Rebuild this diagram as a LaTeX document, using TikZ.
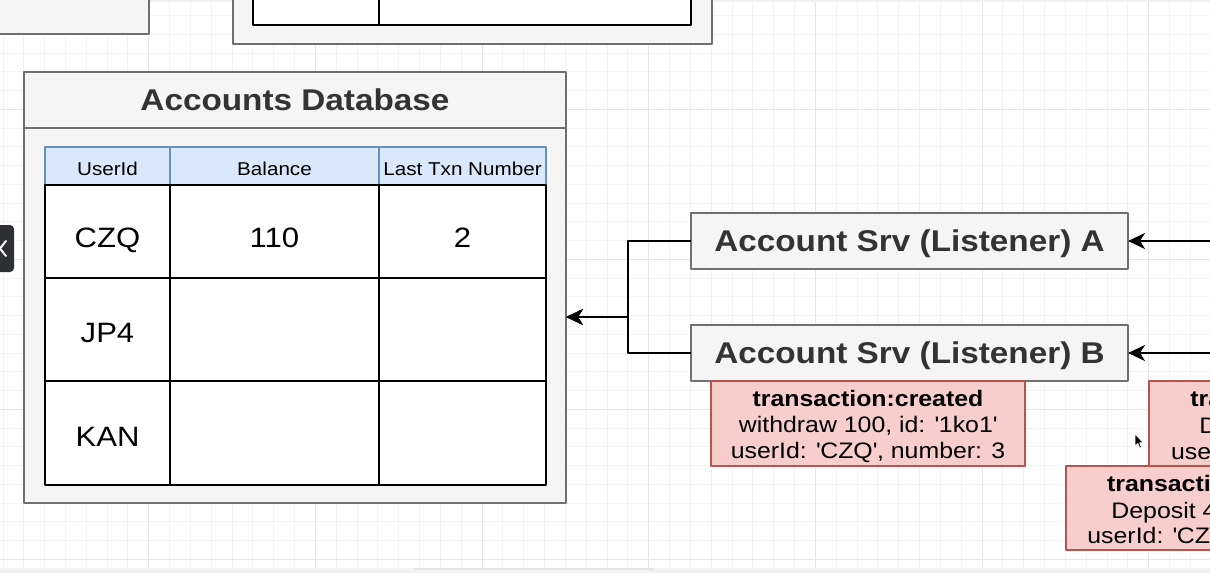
\documentclass[tikz,border=0pt]{standalone}
\usepackage{fontspec}
\setmainfont{Liberation Sans}[FakeStretch=1.11]
\usetikzlibrary{arrows.meta,positioning,calc}

\definecolor{panelfill}{HTML}{F5F5F5}
\definecolor{panelline}{HTML}{707070}
\definecolor{titletext}{HTML}{333333}
\definecolor{headfill}{HTML}{DAE8FC}
\definecolor{headline}{HTML}{6C8EBF}
\definecolor{evfill}{HTML}{F8CECC}
\definecolor{evline}{HTML}{B85450}
\definecolor{gridlight}{HTML}{F3F3F3}
\definecolor{griddark}{HTML}{E6E6E6}
\definecolor{tabdark}{HTML}{2D2F33}

\newcommand\sq{\textquotesingle}

\begin{document}
\begin{tikzpicture}[x=0.5pt, y=-0.5pt, line join=round,
  panel/.style={draw=panelline, fill=panelfill, line width=1pt},
  srv/.style={panel, minimum width=218.5pt, minimum height=28pt, inner sep=0pt, outer sep=0pt,
    text=titletext, font=\fontsize{15}{18}\selectfont\bfseries, text height=10.7pt, text depth=0pt},
  cell/.style={draw=black, fill=white, line width=0.9pt, inner sep=0pt, outer sep=0pt,
    font=\fontsize{14}{16}\selectfont, text height=13pt, text depth=0pt},
  hcell/.style={cell, draw=headline, fill=headfill, minimum height=19pt,
    font=\fontsize{9.3}{11}\selectfont, text height=9pt},
  event/.style={draw=evline, fill=evfill, line width=0.9pt, minimum width=157pt, minimum height=42.5pt,
    inner sep=0pt, outer sep=0pt},
  evtext/.style={align=center, inner sep=0pt, font=\fontsize{11.2}{13}\selectfont},
  frag/.style={anchor=base west, inner sep=0pt, font=\fontsize{11.2}{13}\selectfont},
  conn/.style={draw=black, line width=1pt, -{Stealth[length=8.5pt, width=8pt, inset=2.5pt]}},
  gridminor/.style={draw=gridlight, line width=0.5pt},
  gridmajor/.style={draw=griddark, line width=0.5pt}]

\useasboundingbox (0,0) rectangle (1210,573);
\clip (0,0) rectangle (1210,573);
\fill[white] (0,0) rectangle (1210,573);

% grid
\foreach \k in {0,...,58} \draw[gridminor] ({3+20.833*\k},0) -- ({3+20.833*\k},573);
\foreach \k in {0,...,30} \draw[gridminor] (0,{15.55+18.75*\k}) -- (1210,{15.55+18.75*\k});
\foreach \k in {7,15,...,55} \draw[gridmajor] ({3+20.833*\k},0) -- ({3+20.833*\k},573);
\foreach \k in {5,13,21,29} \draw[gridmajor] (0,{15.55+18.75*\k}) -- (1210,{15.55+18.75*\k});
\fill[gray!12] (0,0) rectangle (1210,2);
\fill[gray!10] (0,568) rectangle (1210,573);
\fill[gray!22] (414,568) rectangle (654,570);

% boxes cut off at the top
\draw[panel] (-10,-10) rectangle (149,34);
\draw[panel] (233,-10) rectangle (712,44);
\draw[fill=white, draw=black, line width=0.9pt] (253,-10) rectangle (691,25);
\draw[black, line width=0.9pt] (379,-10) -- (379,25);

% accounts database
\node[panel, minimum width=271pt, minimum height=215.5pt, inner sep=0pt, outer sep=0pt] (db) at (295,287.5) {};
\draw[draw=panelline, line width=1pt] (24,128) -- (566,128);
\node[font=\fontsize{15}{18}\selectfont\bfseries, text=titletext] (dbtitle) at (295,100) {Accounts Database};

\node[hcell, minimum width=62.5pt] (huid) at (107.5,166) {UserId};
\node[hcell, minimum width=104.5pt] (hbal) at (274.5,166) {Balance};
\node[hcell, minimum width=83.5pt] (htxn) at (462.5,166) {Last Txn Number};
\foreach \r/\ya/\yb/\hgt/\us/\bl/\tx in {1/185/278/16/CZQ/110/2, 2/278/381/13/JP4//, 3/381/485/13/KAN//}{
  \node[cell, text height=\hgt pt, minimum width=62.5pt, minimum height={(\yb-\ya)*0.5pt}] (uid\r) at (107.5,{(\ya+\yb)/2}) {\us};
  \node[cell, text height=\hgt pt, minimum width=104.5pt, minimum height={(\yb-\ya)*0.5pt}] (bal\r) at (274.5,{(\ya+\yb)/2}) {\bl};
  \node[cell, text height=\hgt pt, minimum width=83.5pt, minimum height={(\yb-\ya)*0.5pt}] (txn\r) at (462.5,{(\ya+\yb)/2}) {\tx};
}

% listeners
\node[srv] (srvA) at (909.5,241) {Account Srv (Listener) A};
\node[srv, below=28pt of srvA] (srvB) {Account Srv (Listener) B};

% events
\node[event] (ev1) at (868,423.5) {};
\node[evtext] (ev1text) at ($(ev1.center)+(0,3)$) {\textbf{transaction:created}\\withdraw 100, id: \sq 1ko1\sq\\userId: \sq CZQ\sq, number: 3};
\node[event] (ev2) at (1306,423.5) {};
\node[frag, font=\fontsize{11.2}{13}\selectfont\bfseries] (ev2a) at (1190,406.7) {tra};
\node[frag] (ev2b) at (1199,433) {D};
\node[frag] (ev2c) at (1170.7,459) {use};
\node[event, minimum height=42pt] (ev3) at (1223,508) {};
\node[frag, font=\fontsize{11.2}{13}\selectfont\bfseries] (ev3a) at (1106.7,491.7) {transacti};
\node[frag] (ev3b) at (1111,518) {Deposit 4};
\node[frag] (ev3c) at (1087,543.3) {userId: \sq CZ};

% connectors
\coordinate (junc) at (628,317);
\coordinate (inA) at (1215,241);
\coordinate (inB) at (1215,353);
\draw[conn] (srvA.west) -| (junc) -- (junc -| db.east);
\draw[conn] (srvB.west) -| (junc) -- (junc -| db.east);
\draw[conn] (inA) -- (srvA.east);
\draw[conn] (inB) -- (srvB.east);

% side tab and cursor
\fill[tabdark, rounded corners=2pt] (-10,225) rectangle (14,272);
\draw[white, line width=1pt, line cap=round] (6,241) -- (0,248.5) -- (6,256);
\filldraw[fill=black, draw=white, line width=0.3pt] (1135,434) -- (1135,446) -- (1137.8,443.4) -- (1139.8,448)
  -- (1141.4,447.3) -- (1139.5,442.8) -- (1143,442.6) -- cycle;
\end{tikzpicture}
\end{document}
